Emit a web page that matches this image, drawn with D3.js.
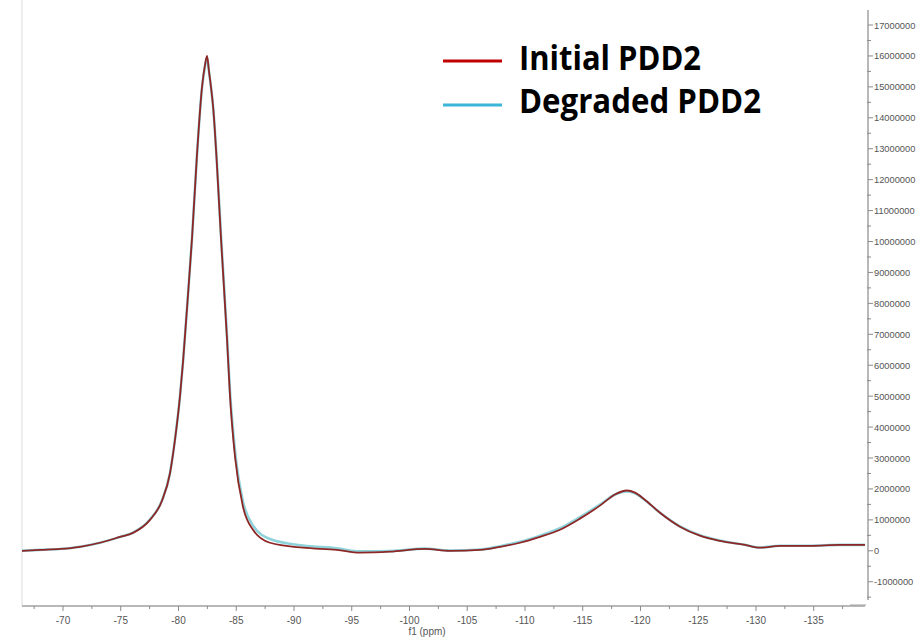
<!DOCTYPE html>
<html>
<head>
<meta charset="utf-8">
<script src="https://cdn.jsdelivr.net/npm/d3@7"></script>
<style>
  html, body { margin: 0; padding: 0; background: #fff; }
  svg { display: block; }
</style>
</head>
<body>
<script>
// ---- data (chemical shift in ppm, intensity in raw units) ----
const ppm = [-66.45, -68.01, -69.74, -71.47, -73.20, -74.94, -76.06, -77.53, -78.57, -79.26,
  -79.70, -80.13, -80.39, -80.65, -81.17, -81.60, -82.03, -82.29, -82.47, -82.64,
  -82.81, -83.01, -83.31, -83.68, -84.20, -84.46, -84.89, -85.58, -86.45, -87.92, -90.78,
  -93.72, -95.71, -98.31, -101.34, -103.51, -106.10, -107.84, -109.57, -111.30, -113.03,
  -114.76, -116.49, -117.79, -118.83, -119.52, -120.35, -121.69, -123.42, -125.15, -126.88,
  -129.05, -130.35, -132.08, -134.68, -137.27, -139.44];

const initialPDD2 = [0, 30000, 60000, 130000, 260000, 450000, 580000, 1000000, 1620000, 2500000,
  3600000, 5000000, 6100000, 7400000, 10100000, 12800000, 14970000, 15700000, 16000000, 15500000,
  15000000, 14300000, 12600000, 10100000, 6850000, 5000000, 3050000, 1430000, 680000, 260000, 100000,
  30000, -60000, -30000, 60000, 0, 30000, 130000, 260000, 450000, 680000,
  1040000, 1460000, 1820000, 1950000, 1880000, 1660000, 1230000, 780000, 490000, 320000,
  190000, 100000, 160000, 160000, 190000, 190000];

const degradedPDD2 = [0, 30000, 60000, 130000, 260000, 450000, 590000, 1010000, 1630000, 2510000,
  3610000, 5000000, 6100000, 7400000, 10100000, 12800000, 14950000, 15650000, 15950000, 15500000,
  15000000, 14300000, 12650000, 10200000, 6950000, 5150000, 3250000, 1600000, 820000, 380000, 170000,
  80000, -20000, -10000, 70000, 10000, 40000, 150000, 290000, 490000, 730000,
  1090000, 1490000, 1820000, 1920000, 1860000, 1650000, 1230000, 790000, 500000, 330000,
  195000, 105000, 165000, 165000, 190000, 190000];

const xTicks = [-70, -75, -80, -85, -90, -95, -100, -105, -110, -115, -120, -125, -130, -135];
const yTicks = [-1000000, 0, 1000000, 2000000, 3000000, 4000000, 5000000, 6000000, 7000000, 8000000,
  9000000, 10000000, 11000000, 12000000, 13000000, 14000000, 15000000, 16000000, 17000000];
const seriesNames = ["Initial PDD2", "Degraded PDD2"];
const seriesColors = ["#c00000", "#3bb5d8"];

// ---- layout ----
const W = 917, H = 637;
const svg = d3.select("body").append("svg").attr("width", W).attr("height", H)
  .style("font-family", "'Liberation Sans', Arial, sans-serif");

const x = d3.scaleLinear().domain([-66.45, -139.44]).range([22, 865]);
const y = d3.scaleLinear().domain([-1785000, 17550000]).range([606, 8]);

// frame
svg.append("line").attr("x1", 22).attr("x2", 22).attr("y1", 0).attr("y2", 606)
  .attr("stroke", "#dcdcdc").attr("stroke-width", 1);

// x axis
const gx = svg.append("g").attr("transform", "translate(0,606)");
gx.append("line").attr("x1", 22).attr("x2", 865).attr("y1", 0).attr("y2", 0)
  .attr("stroke", "#a0a0a0").attr("stroke-width", 1.5);
const xMinor = d3.range(-67.5, -139.5, -2.5).filter(v => v % 5 !== 0);
gx.selectAll(".xminor").data(xMinor).join("line")
  .attr("x1", d => x(d)).attr("x2", d => x(d)).attr("y1", 0).attr("y2", 3)
  .attr("stroke", "#8a8a8a");
gx.selectAll(".xmajor").data(xTicks).join("line")
  .attr("x1", d => x(d)).attr("x2", d => x(d)).attr("y1", 0).attr("y2", 5)
  .attr("stroke", "#8a8a8a");
gx.selectAll(".xlab").data(xTicks).join("text")
  .attr("x", d => x(d)).attr("y", 17.5).attr("text-anchor", "middle")
  .attr("font-size", 10).attr("fill", "#555").text(d => String(d));
svg.append("text").attr("x", 427).attr("y", 635).attr("text-anchor", "middle")
  .attr("font-size", 10).attr("fill", "#555").text("f1 (ppm)");

// y axis (right)
const gy = svg.append("g").attr("transform", "translate(868,0)");
gy.append("line").attr("x1", 0).attr("x2", 0).attr("y1", 10).attr("y2", 600)
  .attr("stroke", "#8a8a8a").attr("stroke-width", 1.2);
const yMinor = yTicks.map(v => v + 500000).filter(v => y(v) > 10);
yMinor.push(-1500000);
gy.selectAll(".yminor").data(yMinor).join("line")
  .attr("x1", -1).attr("x2", 3).attr("y1", d => y(d)).attr("y2", d => y(d))
  .attr("stroke", "#8a8a8a");
gy.selectAll(".ymajor").data(yTicks).join("line")
  .attr("x1", 0).attr("x2", 5).attr("y1", d => y(d)).attr("y2", d => y(d))
  .attr("stroke", "#8a8a8a");
gy.selectAll(".ylab").data(yTicks).join("text")
  .attr("x", 6).attr("y", d => y(d) + 3.5).attr("font-size", 9.3).attr("fill", "#555")
  .text(d => String(d));

// bottom-right little frame segment
svg.append("line").attr("x1", 850).attr("x2", 866).attr("y1", 605).attr("y2", 605)
  .attr("stroke", "#a0a0a0");

// curves
const line = d3.line().x(d => x(d[0])).y(d => y(d[1])).curve(d3.curveMonotoneX);
const degData = ppm.map((p, i) => [p, degradedPDD2[i]]);
const iniData = ppm.map((p, i) => [p, initialPDD2[i]]);
svg.append("path").datum(degData).attr("d", line).attr("fill", "none")
  .attr("stroke", "#8fd3da").attr("stroke-width", 2.6);
svg.append("path").datum(iniData).attr("d", line).attr("fill", "none")
  .attr("stroke", "#8e2626").attr("stroke-width", 1.8);

// legend
const lg = svg.append("g");
const legY = [61, 105];
const legText = [70, 113];
lg.selectAll(".lgl").data(seriesNames).join("line")
  .attr("x1", 443).attr("x2", 502).attr("y1", (d, i) => legY[i]).attr("y2", (d, i) => legY[i])
  .attr("stroke", (d, i) => seriesColors[i]).attr("stroke-width", 3);
lg.selectAll(".lgt").data(seriesNames).join("text")
  .attr("x", 519).attr("y", (d, i) => legText[i])
  .attr("font-family", "'Open Sans', sans-serif").attr("font-weight", "bold")
  .attr("font-size", 34).attr("fill", "#000")
  .attr("textLength", (d, i) => i === 0 ? 182 : 242).attr("lengthAdjust", "spacingAndGlyphs")
  .text(d => d);
</script>
</body>
</html>
